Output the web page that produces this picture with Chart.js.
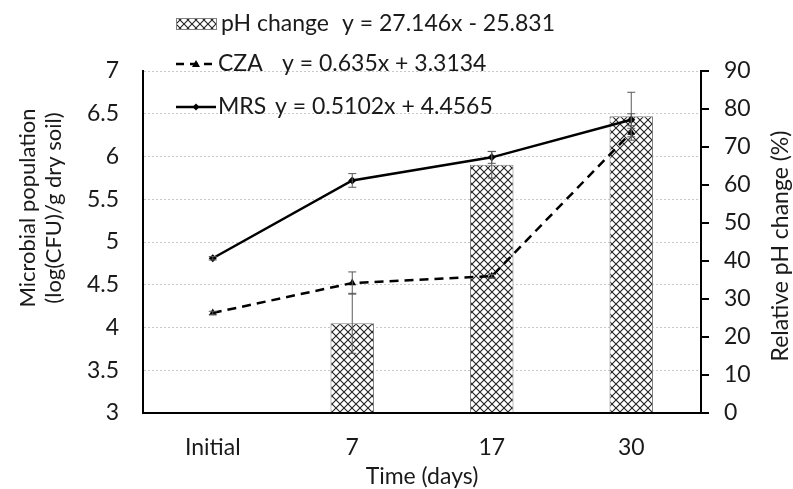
<!DOCTYPE html>
<html>
<head>
<meta charset="utf-8">
<script src="https://cdn.jsdelivr.net/npm/chart.js@4.4.1/dist/chart.umd.min.js"></script>
<style>
  html, body { margin: 0; padding: 0; background: #fff; }
  #wrap { width: 793px; height: 489px; }
</style>
</head>
<body>
<div id="wrap"><canvas id="chart" width="793" height="489"></canvas></div>
<script>
// values
const categories = ["Initial", "7", "17", "30"];
const phChange = [null, 23.6, 65.3, 78.1];
const phChangeErr = [null, 7.9, 3.5, 6.3];
const cza = [4.17, 4.52, 4.60, 6.28];
const czaErr = [0.02, 0.13, 0.02, 0.05];
const mrs = [4.81, 5.72, 5.99, 6.43];
const mrsErr = [0.02, 0.08, 0.07, 0.07];
const seriesNames = ["pH change", "CZA", "MRS"];
const trendLines = ["y = 27.146x - 25.831", "y = 0.635x + 3.3134", "y = 0.5102x + 4.4565"];

const FONT = "Lato, 'Open Sans', sans-serif";
const TEXT = "#1a1a1a";
const FS = 23;

function hatchPattern() {
  const c = document.createElement("canvas");
  c.width = 8; c.height = 8;
  const g = c.getContext("2d");
  g.fillStyle = "#fff";
  g.fillRect(0, 0, 8, 8);
  g.strokeStyle = "#222";
  g.lineWidth = 1.1;
  g.beginPath();
  g.moveTo(0, 0); g.lineTo(8, 8);
  g.moveTo(8, 0); g.lineTo(0, 8);
  g.stroke();
  return document.getElementById("chart").getContext("2d").createPattern(c, "repeat");
}
const hatch = hatchPattern();

// error bars drawn through the library's scales
const errorBars = {
  id: "errorBars",
  afterDatasetsDraw(chart) {
    const ctx = chart.ctx;
    ctx.save();
    ctx.strokeStyle = "#595959";
    ctx.lineWidth = 1;
    chart.data.datasets.forEach((ds, i) => {
      if (!ds.errors) return;
      const meta = chart.getDatasetMeta(i);
      const scale = chart.scales[ds.yAxisID];
      meta.data.forEach((el, j) => {
        const v = ds.data[j], e = ds.errors[j];
        if (v == null || e == null) return;
        const top = scale.getPixelForValue(v + e);
        const bot = scale.getPixelForValue(v - e);
        const x = el.x;
        ctx.beginPath();
        ctx.moveTo(x, top); ctx.lineTo(x, bot);
        ctx.moveTo(x - 4, top); ctx.lineTo(x + 4, top);
        ctx.moveTo(x - 4, bot); ctx.lineTo(x + 4, bot);
        ctx.stroke();
      });
    });
    ctx.restore();
  }
};

// legend with trend equations and axis titles
const decorations = {
  id: "decorations",
  afterDraw(chart) {
    const ctx = chart.ctx;
    const area = chart.chartArea;
    ctx.save();
    ctx.fillStyle = TEXT;
    ctx.font = FS + "px " + FONT;
    ctx.textBaseline = "middle";
    ctx.textAlign = "left";

    const rows = [24, 64, 107];
    const eqX = [342, 282, 275];
    // pH swatch
    ctx.fillStyle = hatch;
    ctx.fillRect(176, 18, 40, 11);
    ctx.strokeStyle = "#808080";
    ctx.lineWidth = 1;
    ctx.strokeRect(176.5, 18.5, 40, 11);
    // CZA sample
    ctx.strokeStyle = "#000";
    ctx.lineWidth = 2.5;
    ctx.setLineDash([8, 6]);
    ctx.beginPath(); ctx.moveTo(176, rows[1]); ctx.lineTo(216, rows[1]); ctx.stroke();
    ctx.setLineDash([]);
    ctx.fillStyle = "#000";
    ctx.beginPath();
    ctx.moveTo(196, rows[1] - 4); ctx.lineTo(200, rows[1] + 3); ctx.lineTo(192, rows[1] + 3);
    ctx.closePath(); ctx.fill();
    // MRS sample
    ctx.beginPath(); ctx.moveTo(176, rows[2]); ctx.lineTo(216, rows[2]); ctx.stroke();
    ctx.beginPath();
    ctx.moveTo(196, rows[2] - 3.5); ctx.lineTo(199.5, rows[2]); ctx.lineTo(196, rows[2] + 3.5); ctx.lineTo(192.5, rows[2]);
    ctx.closePath(); ctx.fill();

    ctx.fillStyle = TEXT;
    const nameX = [221, 218, 218];
    seriesNames.forEach((n, i) => {
      ctx.fillText(n, nameX[i], rows[i]);
      ctx.fillText(trendLines[i], eqX[i], rows[i]);
    });

    // axis titles
    ctx.textAlign = "center";
    ctx.fillText("Time (days)", (area.left + area.right) / 2, 477);

    ctx.font = "22px " + FONT;
    ctx.save();
    ctx.translate(28, 208);
    ctx.rotate(-Math.PI / 2);
    ctx.fillText("Microbial population", 0, 0);
    ctx.restore();
    ctx.save();
    ctx.translate(54, 208);
    ctx.rotate(-Math.PI / 2);
    ctx.fillText("(log(CFU)/g dry soil)", 0, 0);
    ctx.restore();
    ctx.font = FS + "px " + FONT;
    ctx.save();
    ctx.translate(781, (area.top + area.bottom) / 2 + 4);
    ctx.rotate(-Math.PI / 2);
    ctx.fillText("Relative pH change (%)", 0, 0);
    ctx.restore();
    ctx.restore();
  }
};

const ctx = document.getElementById("chart").getContext("2d");

new Chart(ctx, {
  data: {
    labels: categories,
    datasets: [
      {
        type: "line",
        label: "MRS",
        data: mrs,
        errors: mrsErr,
        yAxisID: "y",
        borderColor: "#000",
        backgroundColor: "#000",
        borderWidth: 2.5,
        pointStyle: "rectRot",
        pointRadius: 4,
        pointBorderWidth: 0,
        tension: 0,
        order: 0
      },
      {
        type: "line",
        label: "CZA",
        data: cza,
        errors: czaErr,
        yAxisID: "y",
        borderColor: "#000",
        backgroundColor: "#000",
        borderWidth: 2.5,
        borderDash: [9, 6],
        pointStyle: "triangle",
        pointRadius: 4.5,
        pointBorderWidth: 0,
        tension: 0,
        order: 1
      },
      {
        type: "bar",
        label: "pH change",
        data: phChange,
        errors: phChangeErr,
        yAxisID: "y1",
        backgroundColor: hatch,
        borderColor: "#808080",
        borderWidth: 1,
        categoryPercentage: 1,
        barPercentage: 0.312,
        order: 2
      }
    ]
  },
  options: {
    responsive: false,
    animation: false,
    layout: { padding: { top: 71, left: 0, right: 0, bottom: 0 } },
    plugins: {
      legend: { display: false },
      tooltip: { enabled: false }
    },
    scales: {
      x: {
        offset: true,
        grid: { display: false, drawTicks: false },
        border: { display: true, color: "#000", width: 2 },
        ticks: { color: TEXT, font: { family: FONT, size: FS }, padding: 21, maxRotation: 0 },
        afterFit: s => { s.height = 76; }
      },
      y: {
        position: "left",
        min: 3,
        max: 7,
        ticks: {
          stepSize: 0.5,
          color: TEXT,
          font: { family: FONT, size: FS },
          padding: 24,
          callback: v => String(v)
        },
        grid: { color: "#c8c8c8", drawTicks: false },
        border: { display: true, color: "#000", width: 2, dash: [2, 2] },
        afterFit: s => { s.width = 143; }
      },
      y1: {
        position: "right",
        min: 0,
        max: 90,
        ticks: { stepSize: 10, color: TEXT, font: { family: FONT, size: FS }, padding: 15 },
        grid: { drawOnChartArea: false, drawTicks: true, tickLength: 8, color: "#000", lineWidth: 2 },
        border: { display: true, color: "#000", width: 2 },
        afterFit: s => { s.width = 92; }
      }
    }
  },
  plugins: [errorBars, decorations]
});
</script>
</body>
</html>
